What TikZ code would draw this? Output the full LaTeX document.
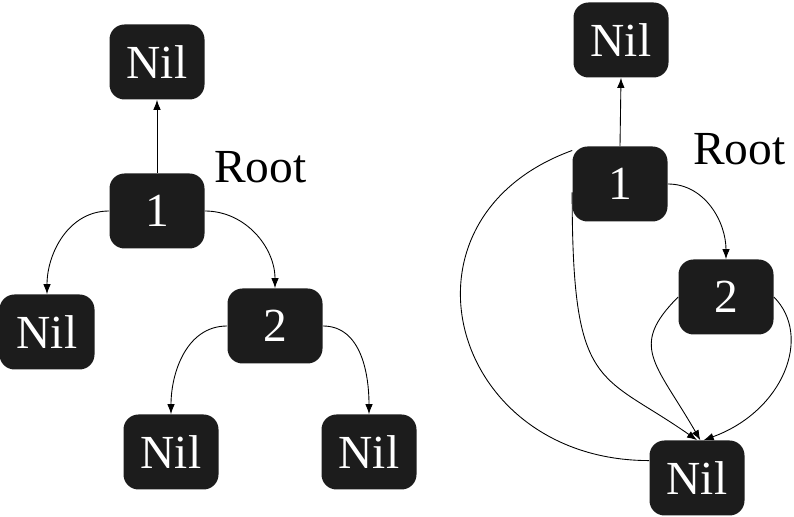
\documentclass[tikz,border=0pt]{standalone}
\usepackage{fontspec}
\setmainfont{Liberation Serif}
\usepackage{tikz}
\usetikzlibrary{arrows.meta}
\usepackage{xcolor}
\definecolor{boxfill}{HTML}{1C1C1C}

\begin{document}
\begin{tikzpicture}[>={Latex[length=2mm,width=1.5mm]},
  blk/.style={fill=boxfill, text=white, rounded corners=0.3cm, minimum width=1.9cm, minimum height=1.5cm, inner sep=0pt, font=\fontsize{27}{30}\selectfont},
  lnk/.style={line width=0.5pt}]
\useasboundingbox (0,0) rectangle (15.88,10.34);

% left tree
\node[blk] (nilA) at (3.14, 9.10) {Nil};
\node[blk] (oneA) at (3.14, 6.12) {1};
\node[blk] (nilL) at (0.94, 3.70) {Nil};
\node[blk] (twoA) at (5.50, 3.82) {2};
\node[blk] (nilBL) at (3.42, 1.30) {Nil};
\node[blk] (nilBR) at (7.38, 1.30) {Nil};
\node[anchor=base west, font=\fontsize{27}{30}\selectfont] (rootA) at (4.16, 6.68) {Root};

\draw[lnk,->] (oneA.north) -- (nilA.south);
\draw[lnk,->] (oneA.west) to[out=180,in=90] (nilL.north);
\draw[lnk,->] (oneA.east) to[out=0,in=90] (twoA.north);
\draw[lnk,->] (twoA.west) to[out=180,in=90] (nilBL.north);
\draw[lnk,->] (twoA.east) to[out=0,in=90] (nilBR.north);

% right tree
\node[blk] (nilB) at (12.42, 9.54) {Nil};
\node[blk] (oneB) at (12.40, 6.66) {1};
\node[blk] (twoB) at (14.52, 4.40) {2};
\node[blk] (nilC) at (13.94, 0.78) {Nil};
\node[anchor=base west, font=\fontsize{27}{30}\selectfont] (rootB) at (13.74, 7.04) {Root};

\draw[lnk,->] (oneB.north) -- (nilB.south);
\draw[lnk,->] (oneB.east) to[out=0,in=90] (twoB.north);
\draw[lnk] (oneB.145) to[out=200,in=180,out distance=4cm,in distance=4cm] (nilC.160);
\draw[lnk,->] (oneB.190) to[out=270,in=145,out distance=4cm,in distance=2.4cm] (nilC.north);
\draw[lnk,->] (twoB.west) to[out=225,in=120,out distance=1.4cm,in distance=1.8cm] (nilC.85);
\draw[lnk,->] (twoB.east) to[out=-45,in=20,out distance=1.1cm,in distance=1.7cm] (nilC.80);
\end{tikzpicture}
\end{document}
